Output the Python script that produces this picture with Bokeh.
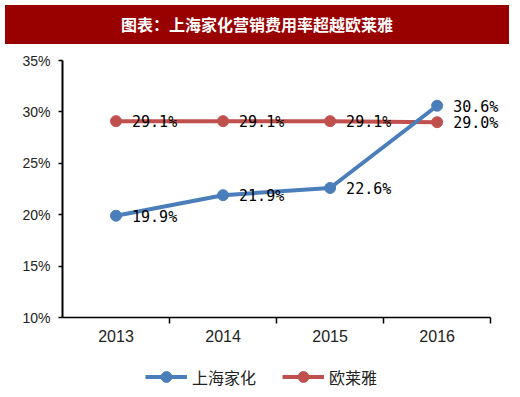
from bokeh.plotting import figure
from bokeh.models import (ColumnDataSource, Div, FixedTicker, NumeralTickFormatter,
                          Legend, LegendItem, Range1d)
from bokeh.layouts import column
from bokeh.embed import file_html
from bokeh.resources import INLINE
from bokeh.core.properties import value

title_text = "图表：上海家化营销费用率超越欧莱雅"
years = ["2013", "2014", "2015", "2016"]
jahwa = [0.199, 0.219, 0.226, 0.306]
loreal = [0.291, 0.291, 0.291, 0.290]
jahwa_labels = ["19.9%", "21.9%", "22.6%", "30.6%"]
loreal_labels = ["29.1%", "29.1%", "29.1%", "29.0%"]
series_names = ["上海家化", "欧莱雅"]
y_ticks = [0.10, 0.15, 0.20, 0.25, 0.30, 0.35]

BLUE = "#4A7EBB"
RED = "#C0504D"

xs = [i + 0.5 for i in range(len(years))]
src_j = ColumnDataSource(dict(x=xs, y=jahwa, t=jahwa_labels))
src_l = ColumnDataSource(dict(x=xs, y=loreal, t=loreal_labels))

header = Div(text=title_text, width=504, height=39,
             styles={"background-color": "#990000", "color": "white",
                     "font-family": "Noto Sans CJK SC", "font-weight": "bold",
                     "font-size": "16px", "text-align": "center",
                     "line-height": "39px"})

n = len(years)
p = figure(width=504, height=303, output_backend="svg", toolbar_location=None,
           x_range=Range1d(0, n + 0.12), y_range=Range1d(y_ticks[0], y_ticks[-1]),
           min_border_top=11, min_border_left=62, min_border_right=1,
           min_border_bottom=35)
p.outline_line_color = None
p.xgrid.visible = False
p.ygrid.visible = False
p.background_fill_color = "white"
p.border_fill_color = "white"

# x axis: labels at category centres, ticks at category boundaries
p.xaxis.bounds = (0, n)
p.xaxis.ticker = FixedTicker(ticks=xs, minor_ticks=list(range(1, n + 1)))
p.xaxis.major_label_overrides = {x: y for x, y in zip(xs, years)}
p.xaxis.major_tick_out = 0
p.xaxis.major_tick_in = 0
p.xaxis.minor_tick_out = 6
p.xaxis.minor_tick_in = 0
p.xaxis.minor_tick_line_color = "black"
p.xaxis.minor_tick_line_width = 1.5
p.xaxis.axis_line_color = "black"
p.xaxis.axis_line_width = 1.5
p.xaxis.major_label_text_font = "Liberation Sans"
p.xaxis.major_label_text_font_size = "16px"
p.xaxis.major_label_text_color = "#222222"
p.xaxis.major_label_standoff = 6

p.yaxis.ticker = FixedTicker(ticks=y_ticks, minor_ticks=[])
p.yaxis.formatter = NumeralTickFormatter(format="0%")
p.yaxis.major_tick_out = 4
p.yaxis.major_tick_in = 0
p.yaxis.major_tick_line_color = "black"
p.yaxis.major_tick_line_width = 1.5
p.yaxis.axis_line_color = "black"
p.yaxis.axis_line_width = 2
p.yaxis.major_label_text_font = "Liberation Sans"
p.yaxis.major_label_text_font_size = "14px"
p.yaxis.major_label_text_color = "#222222"
p.yaxis.major_label_standoff = 8

p.line("x", "y", source=src_l, line_color=RED, line_width=4)
p.scatter("x", "y", source=src_l, size=11, fill_color=RED, line_color=RED)
p.line("x", "y", source=src_j, line_color=BLUE, line_width=4)
p.scatter("x", "y", source=src_j, size=11, fill_color=BLUE, line_color=BLUE)

for src in (src_l, src_j):
    p.text("x", "y", text="t", source=src, x_offset=16, y_offset=1,
           text_baseline="middle", text_align="left",
           text_font=value("DejaVu Sans Mono"), text_font_size="15px",
           text_color="black")

# legend strip (renderers hidden; only their legend swatches are shown)
lg = figure(width=504, height=38, output_backend="svg", toolbar_location=None,
            x_range=Range1d(0, 1), y_range=Range1d(0, 1),
            x_axis_location=None, y_axis_location=None,
            min_border=0, min_border_left=0, min_border_right=0,
            min_border_top=0, min_border_bottom=0)
lg.grid.visible = False
lg.outline_line_color = None
bl = lg.line("x", "y", source=src_j, line_color=BLUE, line_width=4, visible=False)
bc = lg.scatter("x", "y", source=src_j, size=11, fill_color=BLUE, line_color=BLUE, visible=False)
rl = lg.line("x", "y", source=src_l, line_color=RED, line_width=4, visible=False)
rc = lg.scatter("x", "y", source=src_l, size=11, fill_color=RED, line_color=RED, visible=False)

legend = Legend(items=[LegendItem(label=series_names[0], renderers=[bl, bc]),
                       LegendItem(label=series_names[1], renderers=[rl, rc])],
                orientation="horizontal", location=(83, 0),
                label_text_font="Noto Sans CJK SC", label_text_font_size="16px",
                label_text_color="#222222", glyph_width=42, glyph_height=27,
                label_standoff=5, label_width=87, spacing=3,
                border_line_color=None, background_fill_alpha=0,
                inactive_fill_alpha=0, margin=0, padding=2)
lg.add_layout(legend, "center")

layout = column(header, p, lg, spacing=0)
open("out.html", "w").write(file_html(layout, INLINE))
